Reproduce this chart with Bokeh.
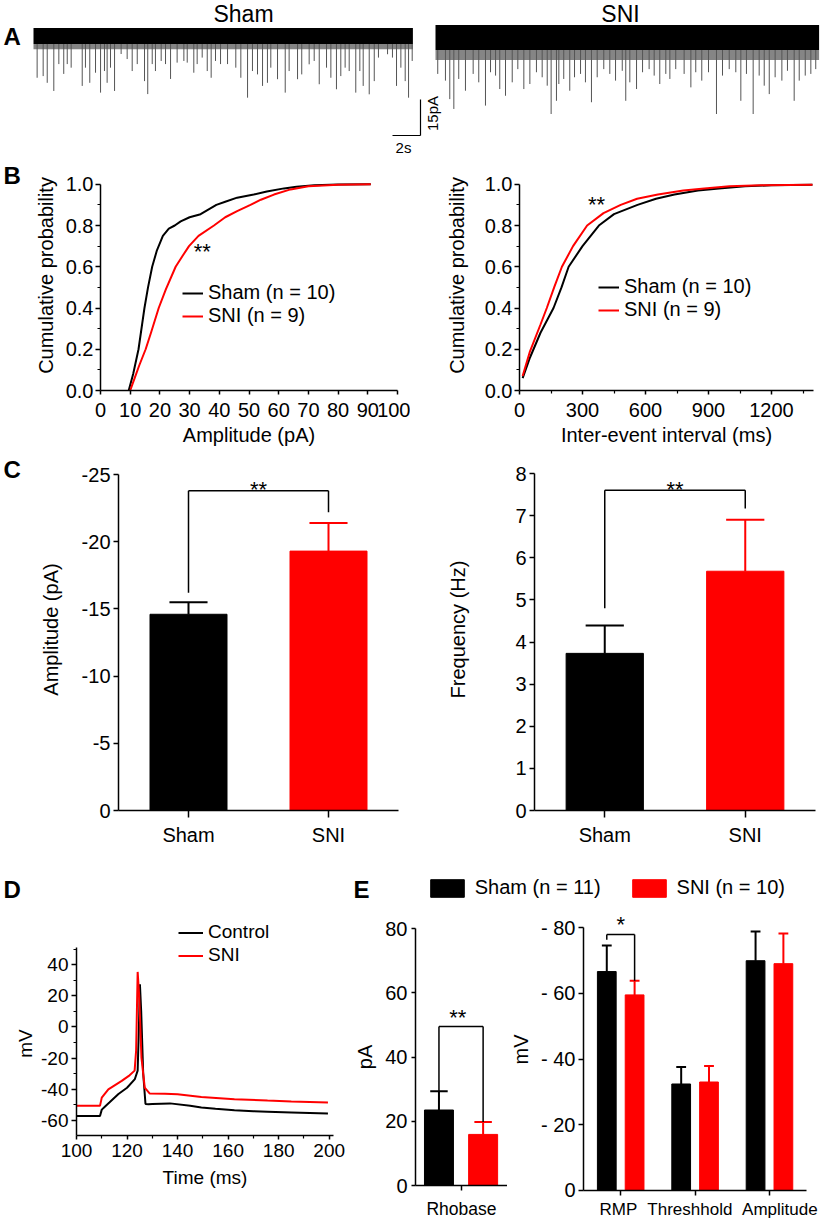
import math
from bokeh.plotting import figure
from bokeh.layouts import row, column
from bokeh.models import (Range1d, FactorRange, FixedTicker, NumeralTickFormatter,
                          CustomJSTickFormatter, Legend, LegendItem, Label,
                          ColumnDataSource)
from bokeh.transform import dodge
from bokeh.core.properties import value
from bokeh.embed import file_html
from bokeh.resources import INLINE

# ======================= DATA =======================
# Panel A - spontaneous EPSC recordings: event times (s) and peak amplitudes (pA)
TRACE_NAMES = ["Sham", "SNI"]
SHAM_EVENT_T = [0.26, 0.69, 0.98, 1.45, 1.81, 2.16, 2.41, 2.69, 3.48, 3.71,
                4.02, 4.43, 4.79, 5.07, 5.26, 5.50, 5.79, 6.26, 6.69, 7.05,
                7.41, 7.93, 8.16, 8.48, 8.71, 9.12, 9.43, 9.79, 10.26, 10.74,
                10.98, 11.45, 11.69, 12.05, 12.41, 12.69, 13.00, 13.36, 13.86, 14.45,
                14.81, 15.29, 15.64, 16.00, 16.36, 16.71, 16.95, 17.43, 17.98, 18.26,
                18.86, 19.16, 19.69, 20.05, 20.41, 20.93, 21.24, 21.64, 21.95, 22.26,
                22.55, 23.02, 23.31, 23.55, 23.98, 24.34, 24.64, 25.29, 25.64, 25.93,
                26.24, 26.55, 26.79, 27.05]
SHAM_EVENT_PA = [-17.4, -16.7, -19.5, -22.9, -11.7, -15.8, -11.7, -13.2, -20.8, -13.2,
                 -19.5, -15.3, -23.6, -14.6, -19.5, -13.2, -22.9, -7.5, -9.6, -14.6,
                 -11.7, -18.8, -24.2, -11.7, -14.6, -10.4, -11.7, -17.9, -11.1, -10.4,
                 -11.1, -15.3, -11.7, -9.0, -14.6, -17.4, -10.4, -11.7, -11.7, -13.2,
                 -17.4, -25.7, -14.6, -16.0, -20.8, -19.5, -13.2, -18.0, -23.6, -14.6,
                 -18.0, -16.0, -11.8, -10.4, -20.1, -13.2, -17.4, -22.2, -16.7, -13.2,
                 -14.6, -23.6, -14.6, -20.8, -24.3, -18.8, -9.0, -7.6, -9.0, -20.8,
                 -13.2, -18.8, -25.7, -10.4]
SNI_EVENT_T = [0.16, 0.71, 1.02, 1.31, 1.66, 2.14, 2.69, 3.09, 3.57, 3.93,
               4.29, 4.59, 5.00, 5.48, 5.88, 6.31, 6.74, 7.21, 7.62, 7.98,
               8.26, 8.64, 8.81, 9.16, 9.59, 9.93, 10.36, 10.71, 11.14, 11.55,
               12.02, 12.45, 12.86, 13.34, 13.59, 13.88, 14.36, 14.79, 15.26, 15.62,
               16.02, 16.45, 16.74, 17.16, 17.76, 18.24, 18.59, 19.02, 19.50, 20.07,
               20.50, 20.98, 21.45, 21.81, 22.21, 22.69, 23.12, 23.48, 23.84, 24.26,
               24.74, 25.14, 25.62, 25.98, 26.41, 26.81, 27.16]
SNI_EVENT_PA = [-15.8, -18.6, -26.3, -30.4, -17.9, -22.8, -15.8, -19.3, -29.0, -15.1,
                -16.5, -22.1, -24.9, -19.3, -13.8, -22.1, -20.0, -15.1, -17.2, -20.7,
                -32.5, -27.0, -20.0, -17.9, -22.8, -17.2, -15.8, -19.3, -27.6, -17.2,
                -13.8, -15.8, -18.6, -14.5, -27.0, -19.3, -22.1, -15.1, -13.8, -16.5,
                -20.0, -15.8, -17.9, -13.8, -15.8, -21.4, -15.1, -18.6, -15.1, -32.5,
                -16.5, -13.8, -15.1, -27.0, -15.8, -32.5, -16.5, -20.7, -24.2, -17.2,
                -18.6, -14.5, -27.0, -18.6, -16.5, -15.8, -13.8]
TRACE_LENGTH_S = [27.1, 27.4]
NOISE_TOP_PA = [3.3, 4.6]
NOISE_BOTTOM_PA = [-3.3, -5.8]
SMALL_EVENT_FLOOR_PA = [-5.5, -10.0]
SCALE_BAR_S = 2
SCALE_BAR_PA = 15

# Panel B - cumulative probability
B_GROUPS = ["Sham", "SNI"]
B_N = [10, 9]
AMP_SHAM_X = [9.5, 11, 12.8, 14, 14.8, 16, 17.4, 19, 21, 23, 25, 27, 30, 33.7, 36,
              39, 42, 46, 51.6, 56, 61.8, 66, 72, 80, 91]
AMP_SHAM_Y = [0, 0.08, 0.2, 0.32, 0.4, 0.5, 0.6, 0.68, 0.75, 0.785, 0.80, 0.82, 0.84,
              0.855, 0.875, 0.9, 0.915, 0.935, 0.95, 0.965, 0.98, 0.988, 0.995, 0.999, 1.0]
AMP_SNI_X = [10, 11.5, 13, 15.2, 17, 19.6, 22, 25.3, 27.5, 29.8, 33, 38.2, 42, 46,
             50.5, 54, 58.4, 64, 70, 80, 91]
AMP_SNI_Y = [0, 0.06, 0.12, 0.2, 0.28, 0.4, 0.49, 0.6, 0.65, 0.7, 0.75, 0.8, 0.84,
             0.87, 0.9, 0.925, 0.95, 0.975, 0.99, 0.998, 1.0]
IEI_SHAM_X = [15, 50, 100, 162, 200, 234, 300, 378, 450, 562, 650, 738, 850, 950,
              1074, 1200, 1395]
IEI_SHAM_Y = [0.06, 0.16, 0.28, 0.4, 0.5, 0.6, 0.7, 0.8, 0.855, 0.9, 0.93, 0.95, 0.97,
              0.98, 0.99, 0.995, 0.998]
IEI_SNI_X = [15, 50, 100, 130, 165, 202, 255, 322, 400, 482, 560, 659, 780, 880, 1000,
             1150, 1395]
IEI_SNI_Y = [0.07, 0.19, 0.32, 0.4, 0.5, 0.6, 0.7, 0.8, 0.86, 0.9, 0.93, 0.95, 0.97,
             0.98, 0.99, 0.995, 0.998]

# Panel C - mean +/- SEM
C_GROUPS = ["Sham", "SNI"]
C_AMP_MEAN = [-14.6, -19.3]
C_AMP_SEM = [0.9, 2.1]
C_FREQ_MEAN = [3.73, 5.68]
C_FREQ_SEM = [0.66, 1.22]

# Panel D - action potentials
D_NAMES = ["Control", "SNI"]
D_CTRL_T = [100, 109.3, 110, 111, 113, 116.6, 120, 123.1, 124.2, 124.7, 125.1, 125.6,
            126.4, 127.3, 128.5, 130, 137, 145, 149.4, 155, 162.5, 170, 175.6, 185, 199.5]
D_CTRL_MV = [-57.1, -57.1, -53, -51.5, -48.5, -43, -39, -33.4, -28, 0, 27.4, 10,
             -30, -49.4, -49.5, -49.4, -49, -50.5, -51.7, -52.5, -53.4, -54, -54.3, -54.8, -55.5]
D_SNI_T = [100, 109.3, 110, 112.6, 117.9, 121, 123.0, 123.6, 124.2, 124.8, 125.7, 127.0,
           129, 135, 140, 149.4, 162.5, 175.6, 185, 199.5]
D_SNI_MV = [-50.6, -50.6, -45.3, -40, -34.6, -31, -28, -15, 35.3, 20, -19.6, -38.9,
            -42.7, -42.8, -43.2, -44.9, -46.3, -47.2, -47.8, -48.5]

# Panel E - excitability
E_GROUPS = ["Sham", "SNI"]
E_N = [11, 10]
E_RHEO_CAT = ["Rhobase"]
E_RHEO_MEAN = [23.5, 15.9]
E_RHEO_SEM = [5.8, 3.9]
E_PARAMS = ["RMP", "Threshhold", "Amplitude"]
E_SHAM_MV = [-66.6, -32.4, -69.9]
E_SHAM_SEM = [7.9, 5.2, 8.9]
E_SNI_MV = [-59.5, -33.0, -69.0]
E_SNI_SEM = [4.3, 4.9, 9.2]

# ============================== STYLE / HELPERS ==============================
FONT = "Liberation Sans"
BLK = "#000000"
RED = "#ff0000"
COLORS = [BLK, RED]
PLAIN_NUM = "return tick.toString();"


def make_fig(geom, x_range, y_range, axes=True):
    W, H, L, R, T, B = geom
    extra = {} if axes else dict(x_axis_location=None, y_axis_location=None)
    p = figure(width=W, height=H, x_range=x_range, y_range=y_range,
               output_backend="svg", toolbar_location=None,
               min_border_left=L, min_border_right=R,
               min_border_top=T, min_border_bottom=B, **extra)
    p.outline_line_color = None
    p.background_fill_color = "white"
    p.border_fill_color = "white"
    for g in p.grid:
        g.visible = False
    return p


def style_axis(ax, size, tick_out=5, standoff=2, label_standoff=5, minor_out=3):
    ax.axis_line_color = BLK
    ax.axis_line_width = 1.5
    ax.major_tick_line_color = BLK
    ax.major_tick_line_width = 1.5
    ax.minor_tick_line_color = BLK
    ax.minor_tick_line_width = 1.2
    ax.major_tick_in = 0
    ax.major_tick_out = tick_out
    ax.minor_tick_in = 0
    ax.minor_tick_out = minor_out
    ax.major_label_standoff = standoff
    ax.major_label_text_font = FONT
    ax.major_label_text_font_size = size
    ax.major_label_text_color = BLK
    ax.axis_label_text_font = FONT
    ax.axis_label_text_font_size = size
    ax.axis_label_text_font_style = "normal"
    ax.axis_label_text_color = BLK
    ax.axis_label_standoff = label_standoff


def ftext(p, geom, text, fx, fy, size, bold=False, align="left", baseline="middle", angle=0.0):
    W, H, L, R, T, B = geom
    p.add_layout(Label(x=fx - L, y=(H - B) - fy, x_units="screen", y_units="screen",
                       text=text, text_font=FONT, text_font_size=size,
                       text_font_style="bold" if bold else "normal",
                       text_align=align, text_baseline=baseline, angle=angle,
                       text_color=BLK))


def side_fig(w, h, bottom):
    """A small blank figure (no axes) whose frame bottom matches its row."""
    return make_fig((w, h, 0, 0, 0, bottom), Range1d(0, w), Range1d(bottom, h), axes=False)


def side_text(p, h, text, fx, fy, size="24px", bold=True, angle=0.0, align="left"):
    p.text(x=[fx], y=[h - fy], text=[text], text_font=value(FONT), text_font_size=size,
           text_font_style="bold" if bold else "normal", text_align=align,
           text_baseline="middle", angle=angle, text_color=BLK)


def _dx(p, field, offset):
    rng = p.x_range if isinstance(p.x_range, FactorRange) else None
    return dodge(field, offset, range=rng)


def cat_text(p, cat, offset, y, text, size="22px"):
    src = ColumnDataSource(dict(c=[cat], y=[y], t=[text]))
    p.text(x=_dx(p, "c", offset), y="y", text="t", source=src,
           text_font=value(FONT), text_font_size=size, text_align="center",
           text_baseline="middle", text_color=BLK)


def dodge_bars(p, cats, means, sems, offset, width, cap, color, lw=2):
    tips = [m + math.copysign(s, m) for m, s in zip(means, sems)]
    src = ColumnDataSource(dict(c=cats, mean=means, tip=tips))
    r = p.vbar(x=_dx(p, "c", offset), top="mean", bottom=0, width=width,
               fill_color=color, line_color=color, source=src)
    p.segment(x0=_dx(p, "c", offset), x1=_dx(p, "c", offset),
              y0="mean", y1="tip", line_color=color, line_width=lw, source=src)
    p.segment(x0=_dx(p, "c", offset - cap), x1=_dx(p, "c", offset + cap),
              y0="tip", y1="tip", line_color=color, line_width=lw, source=src)
    return r, src


def bracket(p, cat, off_l, off_r, y_l, y_top, y_r):
    src = ColumnDataSource(dict(c=[cat], yl=[y_l], yt=[y_top], yr=[y_r]))
    kw = dict(line_color=BLK, line_width=1.5, source=src)
    p.segment(x0=_dx(p, "c", off_l), x1=_dx(p, "c", off_l), y0="yl", y1="yt", **kw)
    p.segment(x0=_dx(p, "c", off_l), x1=_dx(p, "c", off_r), y0="yt", y1="yt", **kw)
    p.segment(x0=_dx(p, "c", off_r), x1=_dx(p, "c", off_r), y0="yr", y1="yt", **kw)


def add_legend(p, items, loc, size, glyph_w, item_h, standoff, orientation="vertical",
               spacing=0, glyph_h=None):
    leg = Legend(items=items, location=loc, orientation=orientation,
                 glyph_width=glyph_w, glyph_height=glyph_h or item_h, label_height=item_h,
                 label_standoff=standoff, spacing=spacing, padding=0, margin=0,
                 border_line_color=None, background_fill_alpha=0,
                 label_text_font=FONT, label_text_font_size=size, label_text_color=BLK)
    p.add_layout(leg)


# ================================ PANEL A ================================
GA = (820, 160, 0, 0, 0, 0)
A_PX_S = 14.0
A_PX_PA = 2.4
A_T0 = 33
A_SNI_T0 = 435
A_Y0 = 35.5
pA = make_fig(GA, Range1d(-A_T0 / A_PX_S, (820 - A_T0) / A_PX_S),
              Range1d(-(160 - A_Y0) / A_PX_PA, A_Y0 / A_PX_PA), axes=False)
for i, (ts, amps) in enumerate([(SHAM_EVENT_T, SHAM_EVENT_PA), (SNI_EVENT_T, SNI_EVENT_PA)]):
    off = 0.0 if i == 0 else (A_SNI_T0 - A_T0) / A_PX_S
    x0, x1 = off, off + TRACE_LENGTH_S[i]
    pA.quad(left=[x0], right=[x1], top=[NOISE_BOTTOM_PA[i]], bottom=[SMALL_EVENT_FLOOR_PA[i]],
            fill_color="#333333", fill_alpha=0.6, line_color=None)
    xs = [off + t for t in ts]
    pA.segment(x0=xs, x1=xs, y0=[NOISE_BOTTOM_PA[i]] * len(ts), y1=amps,
               line_color="#555555", line_width=1)
    pA.quad(left=[x0], right=[x1], top=[NOISE_TOP_PA[i]], bottom=[NOISE_BOTTOM_PA[i]],
            fill_color=BLK, line_color=None)
sb_x1 = (420 - A_T0) / A_PX_S
sb_y0 = -(135 - A_Y0) / A_PX_PA
pA.segment(x0=[sb_x1 - SCALE_BAR_S, sb_x1], x1=[sb_x1, sb_x1],
           y0=[sb_y0, sb_y0], y1=[sb_y0, sb_y0 + SCALE_BAR_PA], line_color=BLK, line_width=1.2)
ftext(pA, GA, f"{SCALE_BAR_S}s", 403, 147, "15px", align="center")
ftext(pA, GA, f"{SCALE_BAR_PA}pA", 432, 113, "15px", align="center", angle=math.pi / 2)
ftext(pA, GA, TRACE_NAMES[0], 243, 13.5, "23px", align="center")
ftext(pA, GA, TRACE_NAMES[1], 620, 13.5, "23px", align="center")
ftext(pA, GA, "A", 3, 36, "24px", bold=True)

# ================================ PANEL B ================================
# frames start at the top of the row; the y axis itself is bounded to [0, 1]
B_TOP = 1 + 25 / 217
GBL = (380, 288, 70, 13, 0, 46)
GBR = (410, 288, 109, 7, 0, 46)


def cdf_panel(geom, xmax, curves, xticks, xminor, xlabel, ylabel_standoff, legend_loc,
              item_h, star_xy):
    p = make_fig(geom, Range1d(0, xmax), Range1d(0, B_TOP))
    rs = [p.line(xs, ys, line_color=c, line_width=2) for (xs, ys), c in zip(curves, COLORS)]
    style_axis(p.xaxis[0], "20px", tick_out=4, standoff=8, label_standoff=4)
    style_axis(p.yaxis[0], "20px", tick_out=5, standoff=2, label_standoff=ylabel_standoff)
    p.xaxis.ticker = FixedTicker(ticks=xticks, minor_ticks=xminor)
    p.yaxis.ticker = FixedTicker(ticks=[0, 0.2, 0.4, 0.6, 0.8, 1.0],
                                 minor_ticks=[0.1, 0.3, 0.5, 0.7, 0.9])
    p.yaxis.formatter = NumeralTickFormatter(format="0.0")
    p.yaxis.bounds = (0, 1)
    p.xaxis.axis_label = xlabel
    p.yaxis.axis_label = "Cumulative probability"
    items = [LegendItem(label=f"{g} (n = {n})", renderers=[r])
             for g, n, r in zip(B_GROUPS, B_N, rs)]
    add_legend(p, items, legend_loc, "20px", 21, item_h, 5)
    p.add_layout(Label(x=star_xy[0], y=star_xy[1], text="**", text_font=FONT,
                       text_font_size="22px", text_align="center",
                       text_baseline="middle", text_color=BLK))
    return p


pLB = side_fig(30, 288, 46)
side_text(pLB, 288, "B", 3, 16)
pBL = cdf_panel(GBL, 100, [(AMP_SHAM_X, AMP_SHAM_Y), (AMP_SNI_X, AMP_SNI_Y)],
                list(range(0, 101, 10)), [], "Amplitude (pA)", 6, (82, 63), 22, (34.3, 0.673))
pBR = cdf_panel(GBR, 1400, [(IEI_SHAM_X, IEI_SHAM_Y), (IEI_SNI_X, IEI_SNI_Y)],
                [0, 300, 600, 900, 1200], [150, 450, 750, 1050, 1350],
                "Inter-event interval (ms)", 14, (79, 69), 20, (367, 0.903))

# ================================ PANEL C ================================
GCL = (380, 400, 88, 12, 0, 38)
GCR = (410, 400, 124, 5, 0, 38)


def bar_panel(geom, means, sems, y_axis_end, y_frame_end, yticks, ylabel, ylabel_standoff,
              br, star_y):
    p = make_fig(geom, FactorRange(factors=C_GROUPS), Range1d(0, y_frame_end))
    for i, g in enumerate(C_GROUPS):
        dodge_bars(p, [g], [means[i]], [sems[i]], 0.0, 0.55, 0.136, COLORS[i])
    bracket(p, C_GROUPS[0], 0.0, 1.0, *br)
    cat_text(p, C_GROUPS[0], 0.5, star_y, "**")
    style_axis(p.xaxis[0], "20px", tick_out=7, standoff=6)
    style_axis(p.yaxis[0], "20px", tick_out=5, standoff=3, label_standoff=ylabel_standoff)
    p.yaxis.ticker = FixedTicker(ticks=yticks)
    p.yaxis.formatter = CustomJSTickFormatter(code=PLAIN_NUM)
    p.yaxis.bounds = (min(0, y_axis_end), max(0, y_axis_end))
    p.yaxis.axis_label = ylabel
    return p


pLC = side_fig(30, 400, 38)
side_text(pLC, 400, "C", 3, 21)
pCL = bar_panel(GCL, C_AMP_MEAN, C_AMP_SEM, -25, -(25 + 26 / 13.44),
                [0, -5, -10, -15, -20, -25], "Amplitude (pA)", 17,
                (-16.2, -23.8, -22.2), -23.88)
pCR = bar_panel(GCR, C_FREQ_MEAN, C_FREQ_SEM, 8, 8 + 25 / 42.125, list(range(0, 9)),
                "Frequency (Hz)", 43, (4.8, 7.6, 7.17), 7.62)

# ================================ PANEL D ================================
# left strip carries the panel letter and the y-axis title of the AP plot
pLD = side_fig(38, 373, 86)
side_text(pLD, 373, "D", 3, 41)
side_text(pLD, 373, "mV", 25, 195, size="19px", bold=False, angle=math.pi / 2, align="center")
GD = (312, 373, 37, 17, 0, 86)
pD = make_fig(GD, Range1d(100, 201.7), Range1d(-69.6, 51 + 99 / 1.56))
rd = [pD.line(D_CTRL_T, D_CTRL_MV, line_color=BLK, line_width=2),
      pD.line(D_SNI_T, D_SNI_MV, line_color=RED, line_width=2)]
style_axis(pD.xaxis[0], "19px", tick_out=4, standoff=4, label_standoff=7)
style_axis(pD.yaxis[0], "19px", tick_out=5, standoff=3, label_standoff=0)
pD.xaxis.ticker = FixedTicker(ticks=[100, 120, 140, 160, 180, 200],
                              minor_ticks=[110, 130, 150, 170, 190])
pD.yaxis.ticker = FixedTicker(ticks=[-60, -40, -20, 0, 20, 40],
                              minor_ticks=[-50, -30, -10, 10, 30, 50])
pD.yaxis.formatter = CustomJSTickFormatter(code=PLAIN_NUM)
pD.yaxis.bounds = (-69.6, 51)
pD.xaxis.axis_label = "Time (ms)"
add_legend(pD, [LegendItem(label=n, renderers=[r]) for n, r in zip(D_NAMES, rd)],
           (102, 168.5), "19px", 25, 23, 5)

# ================================ PANEL E ================================
GET = (470, 60, 0, 0, 0, 0)
GEL = (157, 313, 65, 0, 20, 31)
GER = (313, 292, 73, 0, 0, 10)
E_UNIT_PX = 226 / len(E_PARAMS)                     # pixels per parameter group
E_XMAX = (313 - 73) / E_UNIT_PX
E_CENTERS = [k + 0.5 for k in range(len(E_PARAMS))]

pEL = make_fig(GEL, FactorRange(factors=E_RHEO_CAT), Range1d(0, 80))
rheo_src = []
for i, off in enumerate([-0.245, 0.235]):
    _, s = dodge_bars(pEL, E_RHEO_CAT, [E_RHEO_MEAN[i]], [E_RHEO_SEM[i]], off, 0.315, 0.095,
                      COLORS[i])
    rheo_src.append(s)
bracket(pEL, E_RHEO_CAT[0], -0.245, 0.235, 29.3, 49.5, 19.8)
cat_text(pEL, E_RHEO_CAT[0], -0.04, 52.2, "**")
style_axis(pEL.xaxis[0], "17.5px", tick_out=5, standoff=8)
style_axis(pEL.yaxis[0], "20px", tick_out=4, standoff=4, label_standoff=6)
pEL.yaxis.ticker = FixedTicker(ticks=[0, 20, 40, 60, 80])
pEL.yaxis.axis_label = "pA"

pER = make_fig(GER, Range1d(0, E_XMAX), Range1d(0, -(80 + 19 / 3.2875)))
dodge_bars(pER, E_CENTERS, E_SHAM_MV, E_SHAM_SEM, -0.187, 0.252, 0.066, BLK)
dodge_bars(pER, E_CENTERS, E_SNI_MV, E_SNI_SEM, 0.187, 0.252, 0.066, RED)
bracket(pER, E_CENTERS[0], -0.187, 0.187, -76.3, -77.9, -63.8)
cat_text(pER, E_CENTERS[0], 0.0, -80.9, "*")
style_axis(pER.xaxis[0], "1px", tick_out=5, standoff=0)
pER.xaxis.major_label_text_alpha = 0
pER.xaxis.ticker = FixedTicker(ticks=E_CENTERS)
pER.xaxis.bounds = (0, len(E_PARAMS))
style_axis(pER.yaxis[0], "20px", tick_out=5, standoff=3, label_standoff=6)
pER.yaxis.ticker = FixedTicker(ticks=[0, -20, -40, -60, -80])
pER.yaxis.bounds = (-80, 0)
pER.yaxis.formatter = CustomJSTickFormatter(
    code="return tick == 0 ? '0' : '- ' + Math.abs(tick);")
pER.yaxis.axis_label = "mV"

# parameter names under the right-hand E plot (slightly off their ticks in the original)
pEX = make_fig((313, 21, 73, 0, 0, 0), Range1d(0, E_XMAX), Range1d(0, 21), axes=False)
pEX.text(x=[c + off for c, off in zip(E_CENTERS, [-0.03, -0.07, 0.14])],
         y=[12] * len(E_PARAMS), text=E_PARAMS, text_font=value(FONT), text_font_size="17px",
         text_align="center", text_baseline="middle", text_color=BLK)

pET = make_fig(GET, FactorRange(factors=E_RHEO_CAT), Range1d(0, 80), axes=False)
proxies = [pET.vbar(x="c", top="mean", width=0.3, source=s, fill_color=c, line_color=c,
                    visible=False) for s, c in zip(rheo_src, COLORS)]
add_legend(pET, [LegendItem(label=f"{g} (n = {n})", renderers=[r])
                 for g, n, r in zip(E_GROUPS, E_N, proxies)],
           (75.75, 8.75), "20px", 42, 22, 7, orientation="horizontal", spacing=27)
ftext(pET, GET, "E", 3, 41, "24px", bold=True)

# ================================ LAYOUT ================================
layout = column(pA,
                row(pLB, pBL, pBR),
                row(pLC, pCL, pCR),
                row(pLD, pD, column(pET, row(pEL, column(pER, pEX)))))

with open("out.html", "w") as f:
    f.write(file_html(layout, INLINE, title="Figure"))
